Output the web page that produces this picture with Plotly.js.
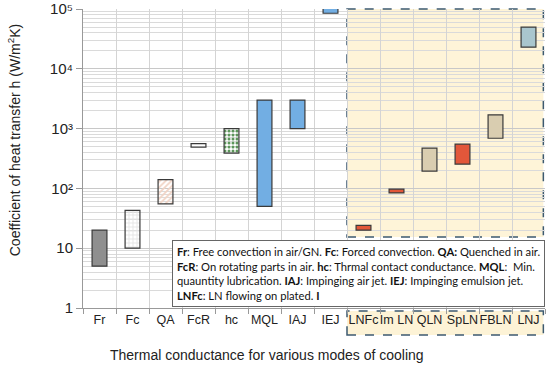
<!DOCTYPE html>
<html><head><meta charset="utf-8">
<script src="https://cdn.plot.ly/plotly-3.0.1.min.js"></script>
<style>html,body{margin:0;padding:0;background:#fff}#chart{width:550px;height:371px}</style>
</head><body><div id="chart"></div>
<script>
const categories = ["Fr","Fc","QA","FcR","hc","MQL","IAJ","IEJ","LNFc","Im LN","QLN","SpLN","FBLN","LNJ"];
const lowValues  = [5, 10, 55, 490, 390, 50, 1000, 85000, 20, 84, 195, 255, 690, 23000];
const highValues = [20, 43, 140, 560, 1000, 3000, 3000, 200000, 24, 97, 470, 550, 1700, 50000];
const barColors  = ["#8f8f8f","#e4e4e4","#f1d3c4","#ffffff","#5c965a","#72aee3","#72aee3","#72aee3","#e2573a","#e2573a","#d9cdb0","#e2573a","#d9cdb0","#a9c6ce"];
const patShapes  = ["","+" ,"/","-",".","","","","","","","","",""];
const patFg      = ["#000","#ffffff","#a95a40","#333333","#a8d49e","#000","#000","#000","#000","#000","#000","#000","#000","#000"];
const patSolid   = [0.3, 0.4, 0.45, 0.4, 0.45, 0.3, 0.3, 0.3, 0.3, 0.3, 0.3, 0.3, 0.3, 0.3];
const yTickVals  = [1,10,100,1000,10000,100000];
const yTickText  = ["1","10","10²","10³","10⁴","10⁵"];
const noteText = "<b>Fr</b>: Free convection in air/GN. <b>Fc</b>: Forced convection. <b>QA:</b> Quenched in air.<br>" +
  "<b>FcR</b>: On rotating parts in air. <b>hc</b>: Thrmal contact conductance. <b>MQL</b>:  Min.<br>" +
  "quauntity lubrication. <b>IAJ</b>: Impinging air jet. <b>IEJ</b>: Impinging emulsion jet.<br>" +
  "<b>LNFc</b>: LN flowing on plated. <b>I</b>";

const sizes = highValues.map((h,i)=>h-lowValues[i]);
const trace = {
  type:"bar", x:categories, y:sizes, base:lowValues, width:0.45,
  marker:{color:barColors, line:{color:"#3a3a3a", width:1.2},
    pattern:{shape:patShapes, fgcolor:patFg, bgcolor:barColors, size:4, solidity:patSolid}},
  hoverinfo:"skip"
};
const layout = {
  width:550, height:371, margin:{l:83,r:5,t:9,b:63},
  paper_bgcolor:"#fff", plot_bgcolor:"#fff", showlegend:false,
  font:{family:"Liberation Sans, Arial, sans-serif", color:"#222"},
  xaxis:{type:"category", tickson:"boundaries", ticks:"outside", ticklen:5, tickcolor:"#999", tickangle:0,
    showgrid:true, gridcolor:"#d4d4d4", showline:true, linecolor:"#999", linewidth:1,
    tickfont:{size:12.5, color:"#222"}, range:[-0.5,13.5], fixedrange:true},
  yaxis:{type:"log", range:[0,5.0005], tickvals:yTickVals, ticktext:yTickText, ticks:"outside", ticklen:6, tickcolor:"#999",
    ticklabeloverflow:"allow",
    showgrid:true, gridcolor:"#c8c8c8", showline:true, linecolor:"#999", linewidth:1,
    tickfont:{size:15, color:"#222"},
    minor:{dtick:"D1", showgrid:true, gridcolor:"#dadada", ticks:""}},
  shapes:[
    {type:"rect", xref:"x", yref:"paper", x0:7.5, x1:13.45, y0:0.2375, y1:1, layer:"between",
      fillcolor:"rgba(253,238,195,0.65)", line:{color:"#3d5a70", width:1.5, dash:"dash"}},
    {type:"rect", xref:"x", yref:"paper", x0:7.5, x1:13.45, y0:-0.09, y1:-0.01, layer:"below",
      fillcolor:"#fdf3d6", line:{color:"#3d5a70", width:1.5, dash:"dash"}}
  ],
  annotations:[
    {xref:"paper", yref:"paper", x:0.193, y:0.227, xanchor:"left", yanchor:"top", align:"left",
      text:noteText, showarrow:false, bgcolor:"#fff", bordercolor:"#666", borderwidth:1, borderpad:4,
      font:{family:"Lato, Liberation Sans, sans-serif", size:11.2, color:"#111"}},
    {xref:"paper", yref:"paper", x:0.398, y:-0.157, xanchor:"center", yanchor:"middle", showarrow:false,
      text:"Thermal conductance for various modes of cooling", font:{size:14, color:"#222"}},
    {xref:"paper", yref:"paper", x:-0.15, y:0.56, xanchor:"center", yanchor:"middle", showarrow:false, textangle:-90,
      text:"Coefficient of heat transfer h (W/m<sup>2</sup>K)", font:{size:14, color:"#222"}}
  ]
};
Plotly.newPlot("chart",[trace],layout,{staticPlot:true});
</script></body></html>
